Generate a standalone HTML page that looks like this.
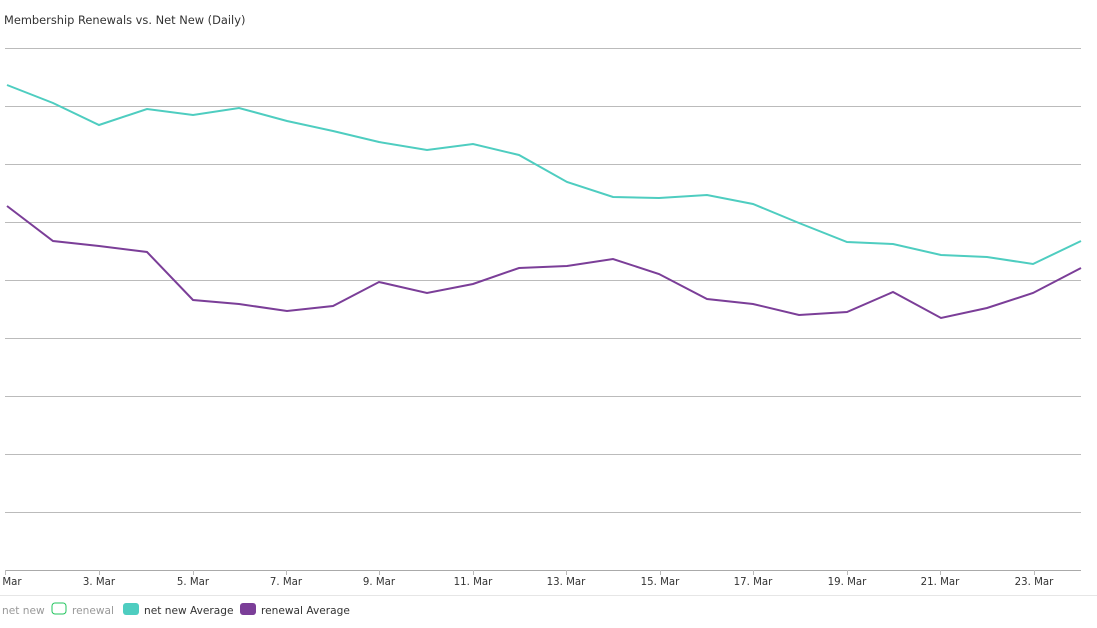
<!DOCTYPE html>
<html><head><style>body{margin:0;background:#fff;font-family:"DejaVu Sans","Liberation Sans",sans-serif}</style></head><body>
<svg width="1097" height="624" xmlns="http://www.w3.org/2000/svg" font-family="DejaVu Sans, Liberation Sans, sans-serif">
<text x="4" y="24" font-size="11.4" fill="#333">Membership Renewals vs. Net New (Daily)</text>
<g stroke="#bbb" stroke-width="1">
<line x1="5" x2="1081" y1="48.5" y2="48.5"/><line x1="5" x2="1081" y1="106.5" y2="106.5"/><line x1="5" x2="1081" y1="164.5" y2="164.5"/><line x1="5" x2="1081" y1="222.5" y2="222.5"/><line x1="5" x2="1081" y1="280.5" y2="280.5"/><line x1="5" x2="1081" y1="338.5" y2="338.5"/><line x1="5" x2="1081" y1="396.5" y2="396.5"/><line x1="5" x2="1081" y1="454.5" y2="454.5"/><line x1="5" x2="1081" y1="512.5" y2="512.5"/><line x1="5" x2="1081" y1="570.5" y2="570.5" stroke="#aaa"/>
<line x1="5.5" x2="5.5" y1="570" y2="575"/><line x1="99.5" x2="99.5" y1="570" y2="575"/><line x1="193.5" x2="193.5" y1="570" y2="575"/><line x1="286.5" x2="286.5" y1="570" y2="575"/><line x1="379.5" x2="379.5" y1="570" y2="575"/><line x1="473.5" x2="473.5" y1="570" y2="575"/><line x1="566.5" x2="566.5" y1="570" y2="575"/><line x1="660.5" x2="660.5" y1="570" y2="575"/><line x1="753.5" x2="753.5" y1="570" y2="575"/><line x1="847.5" x2="847.5" y1="570" y2="575"/><line x1="940.5" x2="940.5" y1="570" y2="575"/><line x1="1034.5" x2="1034.5" y1="570" y2="575"/>
<line x1="0" x2="1097" y1="595.5" y2="595.5" stroke="#e6e6e6"/>
</g>
<g font-size="10.2" fill="#333" text-anchor="middle">
<text x="12" y="585">Mar</text><text x="99" y="585">3. Mar</text><text x="193" y="585">5. Mar</text><text x="286" y="585">7. Mar</text><text x="379" y="585">9. Mar</text><text x="473" y="585">11. Mar</text><text x="566" y="585">13. Mar</text><text x="660" y="585">15. Mar</text><text x="753" y="585">17. Mar</text><text x="847" y="585">19. Mar</text><text x="940" y="585">21. Mar</text><text x="1034" y="585">23. Mar</text>
</g>
<polyline fill="none" stroke="#4ecdc0" stroke-width="2" points="7,85 53,103 99,125 147,109 193,115 239,108 287,121 333,131 379,142 427,150 473,144 519,155 567,182 613,197 659,198 707,195 753,204 799,223 847,242 893,244 941,255 987,257 1033,264 1081,241"/>
<polyline fill="none" stroke="#7b3e98" stroke-width="2" points="7,206 53,241 99,246 147,252 193,300 239,304 287,311 333,306 379,282 427,293 473,284 519,268 567,266 613,259 659,274 707,299 753,304 799,315 847,312 893,292 941,318 987,308 1033,293 1081,268"/>
<g font-size="10.6">
<text x="2" y="614" fill="#999">net new</text>
<rect x="52" y="603" width="14" height="11" rx="3" fill="#fff" stroke="#22c55e"/>
<text x="72" y="614" fill="#999">renewal</text>
<rect x="123" y="603" width="16" height="12" rx="3" fill="#4ecdc0"/>
<text x="144" y="614" fill="#333">net new Average</text>
<rect x="240" y="603" width="16" height="12" rx="3" fill="#7b3e98"/>
<text x="261" y="614" fill="#333">renewal Average</text>
</g>
</svg>
</body></html>
